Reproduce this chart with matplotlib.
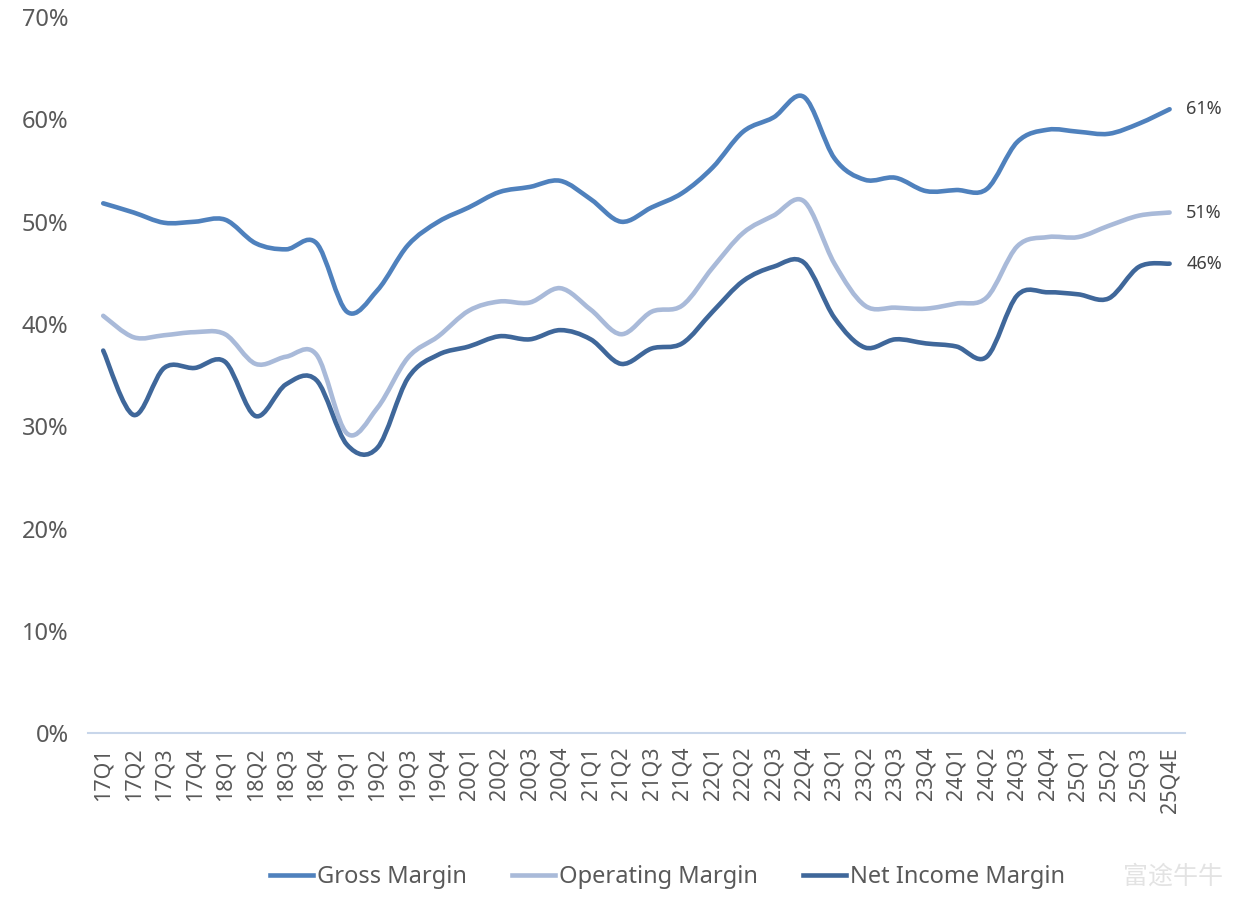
import numpy as np
import matplotlib as mpl
mpl.use('Agg')
import matplotlib.pyplot as plt
from matplotlib.path import Path
from matplotlib.patches import PathPatch
from matplotlib.lines import Line2D
from matplotlib.ticker import FuncFormatter

plt.rcParams['font.family'] = ['Noto Sans', 'Noto Sans CJK SC', 'DejaVu Sans']

quarters = ['17Q1', '17Q2', '17Q3', '17Q4', '18Q1', '18Q2', '18Q3', '18Q4',
            '19Q1', '19Q2', '19Q3', '19Q4', '20Q1', '20Q2', '20Q3', '20Q4',
            '21Q1', '21Q2', '21Q3', '21Q4', '22Q1', '22Q2', '22Q3', '22Q4',
            '23Q1', '23Q2', '23Q3', '23Q4', '24Q1', '24Q2', '24Q3', '24Q4',
            '25Q1', '25Q2', '25Q3', '25Q4E']

gross_margin = [51.8, 50.9, 49.9, 50.0, 50.2, 47.9, 47.3, 47.9,
                41.2, 43.3, 47.7, 50.0, 51.4, 52.9, 53.4, 54.0,
                52.2, 50.0, 51.4, 52.8, 55.3, 58.8, 60.2, 62.2,
                56.2, 54.1, 54.3, 53.0, 53.1, 53.2, 57.8, 59.0,
                58.8, 58.6, 59.6, 61.0]

operating_margin = [40.8, 38.7, 38.9, 39.2, 39.0, 36.1, 36.8, 37.0,
                    29.3, 31.8, 36.7, 38.8, 41.3, 42.2, 42.1, 43.5,
                    41.4, 39.0, 41.2, 41.8, 45.5, 48.9, 50.6, 52.0,
                    45.9, 41.8, 41.6, 41.5, 42.0, 42.6, 47.6, 48.5,
                    48.5, 49.6, 50.6, 50.9]

net_margin = [37.4, 31.1, 35.7, 35.7, 36.3, 31.0, 34.1, 34.5,
              28.2, 27.9, 34.7, 37.0, 37.8, 38.8, 38.5, 39.4,
              38.5, 36.1, 37.6, 38.1, 41.2, 44.2, 45.6, 46.0,
              40.6, 37.7, 38.5, 38.1, 37.8, 36.8, 42.8, 43.1,
              42.9, 42.5, 45.6, 45.9]

series_names = ['Gross Margin', 'Operating Margin', 'Net Income Margin']
colors = ['#4F81BD', '#A9BAD9', '#3F679A']
end_labels = ['61%', '51%', '46%']


# smooth bezier path through points (like excel's smoothed line)
def smooth_path(xs, ys, t=1/6.):
    xs = np.asarray(xs, float)
    ys = np.asarray(ys, float)
    n = len(xs)
    verts = [(xs[0], ys[0])]
    codes = [Path.MOVETO]
    for i in range(n - 1):
        p0 = (xs[max(i-1, 0)], ys[max(i-1, 0)])
        p1 = (xs[i], ys[i])
        p2 = (xs[i+1], ys[i+1])
        p3 = (xs[min(i+2, n-1)], ys[min(i+2, n-1)])
        c1 = (p1[0] + (p2[0]-p0[0])*t, p1[1] + (p2[1]-p0[1])*t)
        c2 = (p2[0] - (p3[0]-p1[0])*t, p2[1] - (p3[1]-p1[1])*t)
        verts += [c1, c2, p2]
        codes += [Path.CURVE4]*3
    return Path(verts, codes)


fig = plt.figure(figsize=(12.55, 9.05), dpi=100)
ax = fig.add_axes([0.0701, 0.19, 0.874, 0.791])

x = np.arange(len(quarters))
handles = []
for vals, name, c, lab in zip([gross_margin, operating_margin, net_margin],
                              series_names, colors, end_labels):
    y = np.array(vals) / 100.
    ax.add_patch(PathPatch(smooth_path(x, y), fill=False, edgecolor=c,
                           lw=3.3, capstyle='round', joinstyle='round'))
    ax.annotate(lab, (x[-1], y[-1]), xytext=(12, 0), textcoords='offset points',
                va='center', ha='left', fontsize=13, color='#404040')
    handles.append(Line2D([0], [0], color=c, lw=3.3))

ax.set_xlim(-0.5, len(quarters) - 0.5)
ax.set_ylim(0, 0.7)
ax.set_yticks(np.arange(0, 0.71, 0.1))
ax.yaxis.set_major_formatter(FuncFormatter(lambda v, p: '%d%%' % round(v*100)))
ax.set_xticks(x)
ax.set_xticklabels(quarters, rotation=90)

for s in ['top', 'right', 'left']:
    ax.spines[s].set_visible(False)
ax.spines['bottom'].set_color('#C8D6EA')
ax.spines['bottom'].set_linewidth(1.5)
ax.tick_params(axis='y', length=0, pad=14, labelsize=17, labelcolor='#595959')
ax.tick_params(axis='x', length=0, pad=10, labelsize=15.5, labelcolor='#595959')

fig.legend(handles, series_names, loc='center', bbox_to_anchor=(0.532, 0.031),
           ncol=3, frameon=False, fontsize=17, handlelength=1.8,
           handletextpad=0.2, columnspacing=1.9, labelcolor='#595959')

# watermark
fig.text(0.935, 0.031, '富途牛牛', fontsize=18, color='#E3E3E3', va='center',
         ha='center', family=['Noto Sans CJK SC'])

fig.savefig('out.png', dpi=100)
